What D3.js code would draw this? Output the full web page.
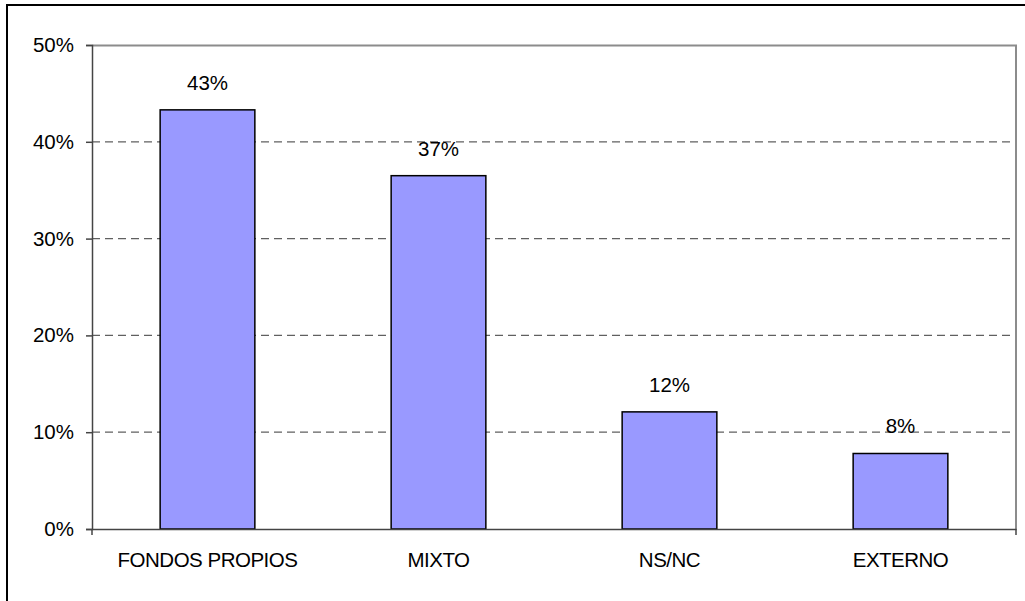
<!DOCTYPE html>
<html>
<head>
<meta charset="utf-8">
<script src="https://cdn.jsdelivr.net/npm/d3@7"></script>
<style>
  body { margin: 0; background: #fff; }
  svg text { font-family: "Liberation Sans", Arial, sans-serif; }
</style>
</head>
<body>
<div id="chart"></div>
<script>
// data
var categories = ["FONDOS PROPIOS", "MIXTO", "NS/NC", "EXTERNO"];
var values = [0.433, 0.365, 0.121, 0.078];
var labels = ["43%", "37%", "12%", "8%"];
var ticks = [0, 0.1, 0.2, 0.3, 0.4, 0.5];

var width = 1025, height = 601;
var margin = { top: 45, right: 9, bottom: 72, left: 92 };
var plotW = width - margin.left - margin.right;
var plotH = height - margin.top - margin.bottom;

var svg = d3.select("#chart")
    .append("svg")
    .attr("width", width)
    .attr("height", height);

// outer chart border
svg.append("rect")
    .attr("x", 7).attr("y", 5)
    .attr("width", width + 10).attr("height", height + 10)
    .attr("fill", "none")
    .attr("stroke", "#000")
    .attr("stroke-width", 2);

var g = svg.append("g")
    .attr("transform", "translate(" + margin.left + "," + margin.top + ")");

var x = d3.scaleBand()
    .domain(categories)
    .range([0, plotW])
    .paddingInner(0.59)
    .paddingOuter(0.295);

var y = d3.scaleLinear()
    .domain([0, 0.5])
    .range([plotH, 0]);

// dashed gridlines
g.selectAll(".grid")
    .data(ticks.filter(function (t) { return t > 0 && t < 0.5; }))
    .enter()
    .append("line")
    .attr("class", "grid")
    .attr("x1", 0).attr("x2", plotW)
    .attr("y1", function (d) { return y(d); })
    .attr("y2", function (d) { return y(d); })
    .attr("stroke", "#606060")
    .attr("stroke-width", 1.2)
    .attr("stroke-dasharray", "8,5");

// plot area border top and right
g.append("path")
    .attr("d", "M0,0.5H" + plotW + "V" + plotH)
    .attr("fill", "none")
    .attr("stroke", "#8c8c8c")
    .attr("stroke-width", 2);

// bars
g.selectAll(".bar")
    .data(values)
    .enter()
    .append("rect")
    .attr("class", "bar")
    .attr("x", function (d, i) { return x(categories[i]); })
    .attr("y", function (d) { return y(d); })
    .attr("width", x.bandwidth())
    .attr("height", function (d) { return plotH - y(d); })
    .attr("fill", "#9999ff")
    .attr("stroke", "#000")
    .attr("stroke-width", 1.5);

// value labels
g.selectAll(".lbl")
    .data(values)
    .enter()
    .append("text")
    .attr("class", "lbl")
    .attr("x", function (d, i) { return x(categories[i]) + x.bandwidth() / 2; })
    .attr("y", function (d) { return y(d) - 20; })
    .attr("text-anchor", "middle")
    .style("font-size", "20.5px")
    .style("fill", "#000")
    .text(function (d, i) { return labels[i]; });

// y axis
var yAxis = g.append("g")
    .call(d3.axisLeft(y)
        .tickValues(ticks)
        .tickSize(6)
        .tickPadding(12)
        .tickFormat(d3.format(".0%")));
yAxis.selectAll("path, line").attr("stroke", "#444").attr("stroke-width", 1.5);
yAxis.selectAll("text").style("font-size", "20.5px").style("fill", "#000");

// x axis
var xAxis = g.append("g")
    .attr("transform", "translate(0," + plotH + ")")
    .call(d3.axisBottom(x).tickSize(0).tickPadding(23));
xAxis.select(".domain").attr("stroke", "#444").attr("stroke-width", 1.5);
xAxis.selectAll("text").style("font-size", "20.5px").style("fill", "#000").style("letter-spacing", "-0.5px");

// small ticks on the category axis at band edges
g.selectAll(".xtick")
    .data([0, plotW])
    .enter()
    .append("line")
    .attr("class", "xtick")
    .attr("x1", function (d) { return d; })
    .attr("x2", function (d) { return d; })
    .attr("y1", plotH).attr("y2", plotH + 6)
    .attr("stroke", "#444")
    .attr("stroke-width", 1.5);
</script>
</body>
</html>
